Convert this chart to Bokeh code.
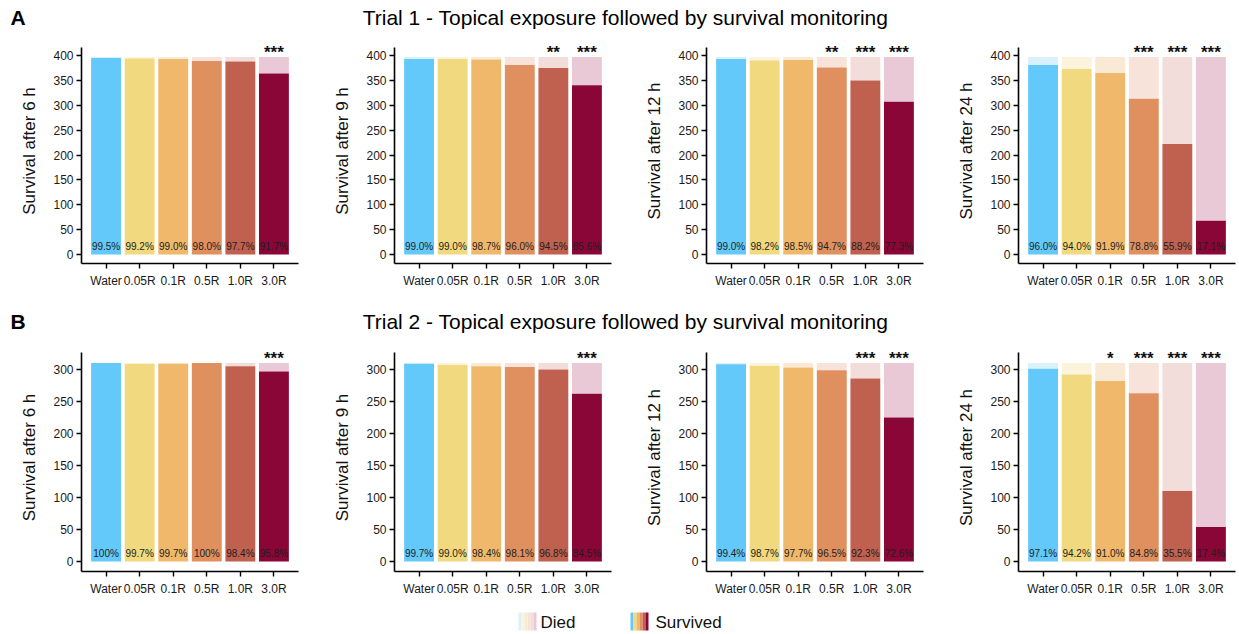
from bokeh.plotting import figure
from bokeh.models import FactorRange, Range1d, SingleIntervalTicker, ColumnDataSource
from bokeh.layouts import column, row
from bokeh.embed import file_html
from bokeh.resources import INLINE
from bokeh.core.properties import value

FONT = "Liberation Sans"

# ---------------- data ----------------
groups = ["Water", "0.05R", "0.1R", "0.5R", "1.0R", "3.0R"]
times = ["6 h", "9 h", "12 h", "24 h"]

colors_survived = ["#63C9FA", "#F0D97F", "#F0B86B", "#E08F5F", "#C0604F", "#8A0636"]
colors_died = ["#D9F1FB", "#FBF3DB", "#FAEAD5", "#F7E3D9", "#F3DDDA", "#EAC9D6"]

# Trial 1 (n per group)
t1_total = [397, 397, 397, 397, 397, 397]
t1_surv_6h = [395, 394, 393, 389, 388, 364]
t1_surv_9h = [393, 393, 392, 381, 375, 340]
t1_surv_12h = [393, 390, 391, 376, 350, 307]
t1_surv_24h = [381, 373, 365, 313, 222, 68]
t1_pct_6h = ["99.5%", "99.2%", "99.0%", "98.0%", "97.7%", "91.7%"]
t1_pct_9h = ["99.0%", "99.0%", "98.7%", "96.0%", "94.5%", "85.6%"]
t1_pct_12h = ["99.0%", "98.2%", "98.5%", "94.7%", "88.2%", "77.3%"]
t1_pct_24h = ["96.0%", "94.0%", "91.9%", "78.8%", "55.9%", "17.1%"]
t1_sig_6h = ["", "", "", "", "", "***"]
t1_sig_9h = ["", "", "", "", "**", "***"]
t1_sig_12h = ["", "", "", "**", "***", "***"]
t1_sig_24h = ["", "", "", "***", "***", "***"]

# Trial 2
t2_total = [310, 310, 310, 310, 310, 310]
t2_surv_6h = [310, 309, 309, 310, 305, 297]
t2_surv_9h = [309, 307, 305, 304, 300, 262]
t2_surv_12h = [308, 306, 303, 299, 286, 225]
t2_surv_24h = [301, 292, 282, 263, 110, 54]
t2_pct_6h = ["100%", "99.7%", "99.7%", "100%", "98.4%", "95.8%"]
t2_pct_9h = ["99.7%", "99.0%", "98.4%", "98.1%", "96.8%", "84.5%"]
t2_pct_12h = ["99.4%", "98.7%", "97.7%", "96.5%", "92.3%", "72.6%"]
t2_pct_24h = ["97.1%", "94.2%", "91.0%", "84.8%", "35.5%", "17.4%"]
t2_sig_6h = ["", "", "", "", "", "***"]
t2_sig_9h = ["", "", "", "", "", "***"]
t2_sig_12h = ["", "", "", "", "***", "***"]
t2_sig_24h = ["", "", "*", "***", "***", "***"]

titles = ["Trial 1 - Topical exposure followed by survival monitoring",
          "Trial 2 - Topical exposure followed by survival monitoring"]
letters = ["A", "B"]
legend_labels = ["Died", "Survived"]

# ---------------- layout geometry ----------------
panel_widths = [313, 312, 312, 302]
right_borders = [15, 14, 14, 4]


def make_panel(total, surv, pct, sig, tlabel, w, rb, height, bb, ystart, yend, axis_top):
    p = figure(width=w, height=height,
               x_range=FactorRange(factors=groups, range_padding=0.232,
                                   range_padding_units="absolute"),
               y_range=Range1d(ystart, yend),
               output_backend="svg", toolbar_location=None,
               min_border_left=81, min_border_right=rb,
               min_border_top=3, min_border_bottom=bb)
    src = ColumnDataSource(dict(g=groups, total=total, surv=surv, pct=pct,
                                sig=sig, cs=colors_survived, cd=colors_died))
    p.vbar(x="g", bottom="surv", top="total", width=0.89, fill_color="cd",
           line_color=None, source=src)
    p.vbar(x="g", bottom=0, top="surv", width=0.89, fill_color="cs",
           line_color=None, source=src)
    p.text(x="g", y=0, text="pct", y_offset=-8, source=src,
           text_font=value(FONT), text_font_size="10px", text_color="#1e1e1e",
           text_align="center", text_baseline="middle")
    p.text(x="g", y="total", text="sig", y_offset=-5, source=src,
           text_font=value(FONT), text_font_size="17px", text_font_style="bold",
           text_color="#111111", text_align="center", text_baseline="middle")

    p.xgrid.visible = False
    p.ygrid.visible = False
    p.outline_line_color = None
    p.background_fill_color = "white"
    p.border_fill_color = "white"

    for ax in (p.xaxis[0], p.yaxis[0]):
        ax.axis_line_width = 1.6
        ax.axis_line_color = "black"
        ax.major_tick_line_color = "black"
        ax.major_tick_line_width = 1.4
        ax.major_tick_out = 5
        ax.major_tick_in = 0
        ax.minor_tick_out = 0
        ax.minor_tick_in = 0
        ax.major_label_text_font = FONT
        ax.major_label_text_font_size = "12px"
        ax.major_label_text_color = "#1a1a1a"

    p.yaxis.ticker = SingleIntervalTicker(interval=50, num_minor_ticks=0)
    p.yaxis.bounds = (ystart, axis_top)
    p.yaxis.major_label_standoff = 3
    p.yaxis.axis_label = "Survival after " + tlabel
    p.yaxis.axis_label_text_font = FONT
    p.yaxis.axis_label_text_font_size = "17px"
    p.yaxis.axis_label_text_font_style = "normal"
    p.yaxis.axis_label_text_color = "#111111"
    p.yaxis.axis_label_standoff = 11
    p.xaxis.major_label_standoff = 5
    return p


def blank(h):
    p = figure(width=1239, height=h, x_range=Range1d(0, 1239), y_range=Range1d(0, h),
               output_backend="svg", toolbar_location=None, min_border=0)
    p.axis.visible = False
    p.grid.visible = False
    p.outline_line_color = None
    return p


def header(letter, title, h, ymid):
    p = blank(h)
    p.text(x=[10], y=[ymid], text=[letter], text_font=value(FONT),
           text_font_size="21px", text_font_style="bold", text_color="black",
           text_align="left", text_baseline="middle")
    p.text(x=[625], y=[ymid], text=[title], text_font=value(FONT),
           text_font_size="21px", text_color="black",
           text_align="center", text_baseline="middle")
    return p


row_a_data = [(t1_surv_6h, t1_pct_6h, t1_sig_6h), (t1_surv_9h, t1_pct_9h, t1_sig_9h),
              (t1_surv_12h, t1_pct_12h, t1_sig_12h), (t1_surv_24h, t1_pct_24h, t1_sig_24h)]
row_b_data = [(t2_surv_6h, t2_pct_6h, t2_sig_6h), (t2_surv_9h, t2_pct_9h, t2_sig_9h),
              (t2_surv_12h, t2_pct_12h, t2_sig_12h), (t2_surv_24h, t2_pct_24h, t2_sig_24h)]

panels_a = [make_panel(t1_total, s, pc, sg, times[i], panel_widths[i], right_borders[i],
                       260, 32, -18.1, 434.2, 416)
            for i, (s, pc, sg) in enumerate(row_a_data)]
panels_b = [make_panel(t2_total, s, pc, sg, times[i], panel_widths[i], right_borders[i],
                       260, 29, -15.6, 340.6, 326.6)
            for i, (s, pc, sg) in enumerate(row_b_data)]

# ---------------- legend ----------------
leg = blank(34)
sw = 3.0
died_left = [518 + i * sw for i in range(6)]
surv_left = [630 + i * sw for i in range(6)]
leg.quad(left=died_left, right=[v + sw for v in died_left], bottom=4, top=22,
         fill_color=colors_died, line_color=None)
leg.quad(left=surv_left, right=[v + sw for v in surv_left], bottom=4, top=22,
         fill_color=colors_survived, line_color=None)
leg.text(x=[540, 655], y=[12, 12], text=legend_labels, text_font=value(FONT),
         text_font_size="17px", text_color="#111111", text_align="left",
         text_baseline="middle")

layout = column(header(letters[0], titles[0], 35, 18.5),
                row(*panels_a),
                header(letters[1], titles[1], 45, 19),
                row(*panels_b),
                leg)

open("out.html", "w").write(file_html(layout, INLINE))
